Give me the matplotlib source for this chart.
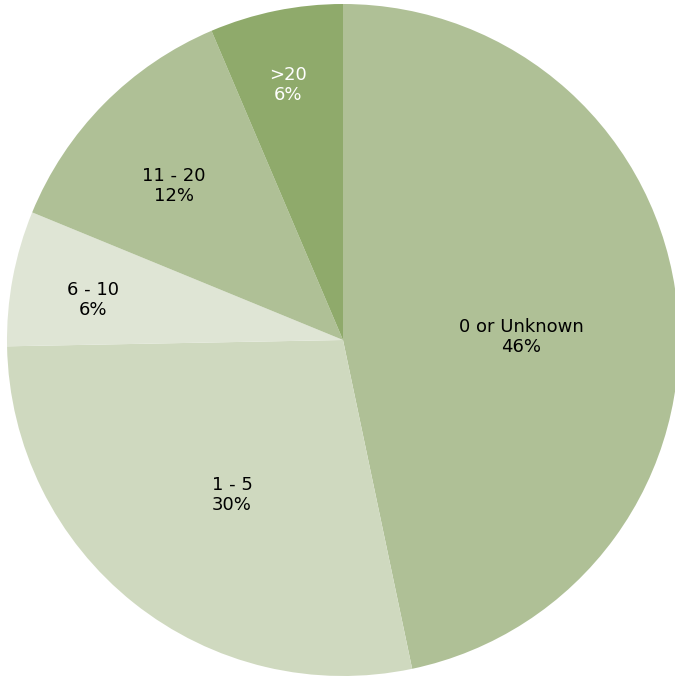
import matplotlib
matplotlib.use("Agg")
import matplotlib.pyplot as plt
import numpy as np

categories = ["0 or Unknown", "1 - 5", "6 - 10", "11 - 20", ">20"]
shares = [46.7, 28.0, 6.5, 12.4, 6.4]
pct_labels = ["46%", "30%", "6%", "12%", "6%"]
colors = ["#afc096", "#cfd9bf", "#dfe5d5", "#afc096", "#8faa6b"]
text_colors = ["black", "black", "black", "black", "white"]
# label placement: fraction of radius and angular nudge (deg) from wedge middle
label_r = [0.53, 0.567, 0.754, 0.68, 0.776]
label_dtheta = [-5.0, 2.9, 1.5, 2.3, 0.7]

W, H = 675, 679
fig = plt.figure(figsize=(W / 100, H / 100), dpi=100)
# pie centre ~(343, 340) px, radius ~336 px
cx, cy, r = 343, 340, 336
ax = fig.add_axes([(cx - r) / W, (H - cy - r) / H, 2 * r / W, 2 * r / H])

wedges, _ = ax.pie(shares, colors=colors, startangle=90, counterclock=False,
                   radius=1, wedgeprops=dict(linewidth=0))
ax.set_xlim(-1, 1)
ax.set_ylim(-1, 1)
ax.set_aspect("auto")
ax.axis("off")

for w, cat, pct, tc, lr, dt in zip(wedges, categories, pct_labels, text_colors,
                                   label_r, label_dtheta):
    mid = np.deg2rad((w.theta1 + w.theta2) / 2 + dt)
    ax.text(lr * np.cos(mid), lr * np.sin(mid), f"{cat}\n{pct}", ha="center",
            va="center", fontsize=13, color=tc, family="DejaVu Sans",
            linespacing=1.1)

fig.savefig("out.png", dpi=100)
